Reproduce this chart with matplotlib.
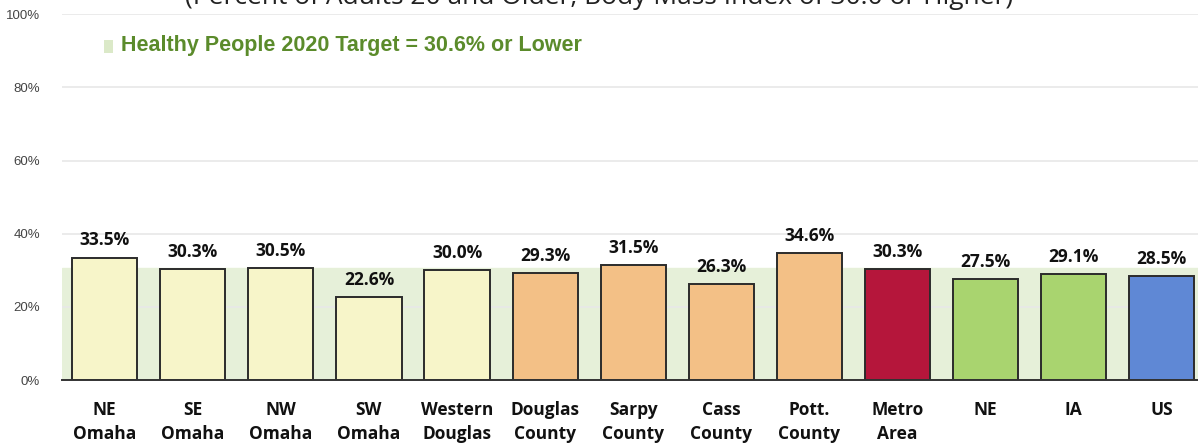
import numpy as np
import matplotlib
matplotlib.use('Agg')
import matplotlib.pyplot as plt
import matplotlib.ticker as ticker

# chart values
areas = ['NE\nOmaha', 'SE\nOmaha', 'NW\nOmaha', 'SW\nOmaha', 'Western\nDouglas',
         'Douglas\nCounty', 'Sarpy\nCounty', 'Cass\nCounty', 'Pott.\nCounty',
         'Metro\nArea', 'NE', 'IA', 'US']
pct = [33.5, 30.3, 30.5, 22.6, 30.0, 29.3, 31.5, 26.3, 34.6, 30.3, 27.5, 29.1, 28.5]
groups = ['omaha', 'omaha', 'omaha', 'omaha', 'omaha',
          'county', 'county', 'county', 'county',
          'metro', 'state', 'state', 'us']
target = 30.6
yticks = [0, 20, 40, 60, 80, 100]

group_colors = {'omaha': '#f7f5c9', 'county': '#f3c086', 'metro': '#b5163b',
                'state': '#a9d46f', 'us': '#5f88d5'}

fig = plt.figure(figsize=(11.98, 4.44), dpi=100)
ax = fig.add_axes([0.052, 0.144, 0.948, 0.824])

x = np.arange(len(areas))
ax.set_xlim(-0.48, len(areas) - 0.59)
ax.set_ylim(0, 100)

# target band
ax.axhspan(0, target, color='#e6f0d9', zorder=0)

bars = ax.bar(x, pct, width=0.74, color=[group_colors[g] for g in groups],
              edgecolor='#2b2b2b', linewidth=1.4, zorder=3)

for xi, v in zip(x, pct):
    ax.text(xi, v + 2.2, f'{v:.1f}%', ha='center', va='bottom', fontsize=12.5,
            fontweight='bold', family=['Open Sans', 'DejaVu Sans'], color='#111111', zorder=4)

ax.set_yticks(yticks)
ax.yaxis.set_major_formatter(ticker.FuncFormatter(lambda v, p: f'{v:.0f}%'))
ax.grid(axis='y', color='#e8e8e8', linewidth=1.2, zorder=1)
ax.set_axisbelow(True)
ax.tick_params(axis='y', length=0, pad=16, labelsize=9.5, labelcolor='#444444')
for lab in ax.get_yticklabels():
    lab.set_family(['Liberation Sans', 'DejaVu Sans'])

ax.set_xticks(x)
ax.set_xticklabels(areas, fontsize=12.5, fontweight='bold', linespacing=1.45,
                   family=['Open Sans', 'DejaVu Sans'], color='#111111')
ax.tick_params(axis='x', length=0, pad=15)

for s in ['top', 'right', 'left']:
    ax.spines[s].set_visible(False)
ax.spines['bottom'].set_color('#333333')
ax.spines['bottom'].set_linewidth(1.4)
ax.spines['bottom'].set_zorder(5)

# legend entry for the target band
ax.bar([0.045], [3.4], bottom=[89.5], width=0.11, color='#dbe9c8', zorder=2)
ax.text(0.19, 91.4, f'Healthy People 2020 Target = {target}% or Lower', ha='left', va='center',
        fontsize=15.5, fontweight='bold', color='#5b8b2b',
        family=['Liberation Sans', 'DejaVu Sans'])

# subtitle, mostly cut off by the top edge of the image
fig.text(0.5, 1 - 4.5 / 444, '(Percent of Adults 20 and Older, Body Mass Index of 30.0 or Higher)',
         ha='center', va='baseline', fontsize=19, color='#222222',
         family=['Open Sans', 'DejaVu Sans'])

fig.savefig('out.png', dpi=100)
